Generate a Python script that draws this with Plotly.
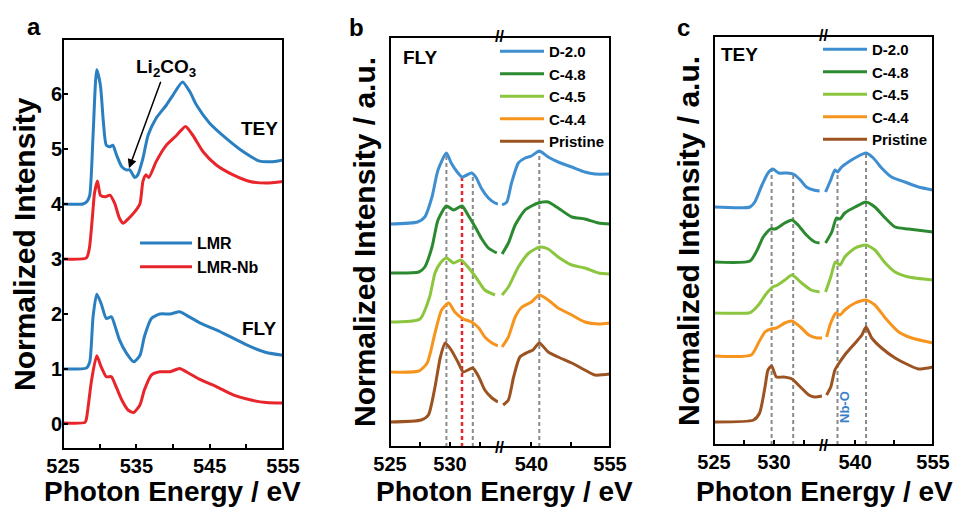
import plotly.graph_objects as go

# ---------------- data ----------------
# Panel a (Normalized Intensity vs Photon Energy)
a_tey_lmr_E = [525.0, 527.7, 528.3, 528.65, 529.1, 529.6, 530.1, 530.5, 530.9, 531.4, 531.8, 532.3, 533.0, 533.65, 534.1, 534.8, 535.2, 535.9, 536.6, 537.7, 539.1, 540.0, 541.3, 542.3, 543.2, 545.0, 547.3, 549.6, 551.8, 553.6, 555.0]
a_tey_lmr_I = [4.0, 4.0, 4.05, 4.16, 5.25, 6.44, 6.16, 5.5, 5.07, 5.04, 5.07, 4.89, 4.68, 4.62, 4.62, 4.48, 4.53, 4.83, 5.25, 5.56, 5.8, 5.98, 6.22, 6.04, 5.8, 5.47, 5.19, 4.95, 4.78, 4.77, 4.8]
a_tey_nb_E = [525.0, 528.2, 528.6, 529.0, 529.3, 529.7, 530.1, 530.7, 531.4, 532.05, 532.7, 533.2, 533.9, 534.8, 535.5, 535.9, 536.3, 536.7, 537.7, 539.1, 540.5, 541.7, 542.7, 544.1, 545.9, 548.2, 550.5, 552.7, 555.0]
a_tey_nb_I = [3.0, 3.02, 3.2, 3.75, 4.2, 4.42, 4.16, 4.13, 4.16, 4.01, 3.74, 3.65, 3.73, 3.86, 4.01, 4.41, 4.53, 4.48, 4.77, 5.07, 5.25, 5.41, 5.25, 4.95, 4.71, 4.53, 4.41, 4.38, 4.41]
a_fly_lmr_E = [525.0, 528.2, 528.65, 529.1, 529.6, 530.2, 530.9, 531.6, 532.05, 532.7, 533.65, 534.65, 535.5, 536.1, 537.05, 538.2, 539.6, 540.9, 541.8, 543.65, 545.9, 548.2, 550.5, 552.7, 555.0]
a_fly_lmr_I = [1.0, 1.02, 1.13, 1.95, 2.36, 2.19, 1.92, 1.95, 1.8, 1.53, 1.29, 1.13, 1.25, 1.59, 1.92, 2.0, 2.0, 2.04, 1.98, 1.84, 1.71, 1.56, 1.41, 1.3, 1.25]
a_fly_nb_E = [525.0, 528.0, 528.2, 528.9, 529.6, 530.2, 530.9, 531.6, 532.05, 533.0, 533.9, 534.65, 535.5, 536.1, 537.05, 538.2, 539.6, 540.9, 541.8, 543.65, 545.9, 548.2, 550.5, 552.7, 555.0]
a_fly_nb_I = [0.02, 0.03, 0.1, 0.8, 1.24, 1.04, 0.86, 0.86, 0.74, 0.44, 0.25, 0.21, 0.35, 0.62, 0.89, 0.95, 0.95, 1.01, 0.95, 0.81, 0.68, 0.53, 0.44, 0.39, 0.38]

# Panel b (FLY), stacked spectra in a.u.
b_d20_E = [525.0, 527.3, 527.9, 528.5, 529.0, 529.7, 530.1, 530.6, 531.0, 531.4, 531.8, 532.2, 532.6, 533.2, 533.75, 534.0, 534.4, 535.3, 536.2, 537.5, 538.8, 540.0, 541.5, 543.2, 545.1, 547.7, 550.2, 552.1, 555.0]
b_d20_I = [22.3, 22.5, 23.0, 25.0, 27.7, 29.4, 28.4, 27.5, 27.0, 27.2, 27.4, 26.9, 25.9, 24.9, 24.4, 24.3, 24.2, 24.5, 26.4, 28.4, 28.9, 29.1, 29.6, 29.0, 28.5, 28.0, 27.5, 27.3, 27.3]
b_c48_E = [525.0, 527.4, 527.9, 528.5, 529.0, 529.7, 530.3, 531.0, 531.5, 532.1, 532.6, 533.2, 533.9, 534.4, 535.6, 536.9, 538.8, 541.3, 543.2, 545.1, 547.7, 550.2, 552.8, 555.0]
b_c48_I = [17.4, 17.5, 18.0, 20.0, 22.7, 24.1, 23.7, 24.1, 23.2, 22.0, 20.9, 19.9, 19.4, 19.3, 20.4, 22.2, 23.7, 24.4, 24.5, 23.9, 23.0, 22.8, 22.4, 22.3]
b_c45_E = [525.0, 527.5, 528.3, 528.75, 529.2, 529.7, 530.3, 530.9, 531.5, 532.2, 532.9, 533.75, 534.4, 535.6, 537.5, 539.5, 541.6, 543.2, 545.1, 547.7, 550.2, 552.8, 555.0]
b_c45_I = [12.5, 12.8, 15.0, 17.4, 18.4, 18.9, 18.4, 18.7, 18.0, 16.9, 15.7, 15.2, 15.2, 16.0, 18.0, 19.4, 20.0, 19.8, 19.0, 18.2, 17.9, 17.4, 17.3]
b_c44_E = [525.0, 527.4, 528.1, 528.75, 529.3, 529.9, 530.4, 531.1, 531.8, 532.4, 532.9, 533.5, 534.0, 534.4, 535.6, 536.9, 538.2, 540.0, 541.5, 543.2, 545.1, 547.7, 550.2, 552.8, 555.0]
b_c44_I = [7.5, 7.6, 8.4, 11.4, 13.7, 14.4, 13.5, 12.8, 12.5, 11.9, 11.0, 10.4, 10.1, 10.0, 11.0, 13.0, 14.0, 14.5, 15.2, 14.7, 13.9, 13.2, 12.5, 12.3, 12.4]
b_pri_E = [525.0, 527.6, 528.2, 528.75, 529.2, 529.6, 530.1, 530.7, 531.1, 531.9, 532.4, 532.9, 533.5, 534.0, 534.6, 535.6, 536.6, 537.8, 539.4, 540.3, 541.5, 543.2, 545.1, 547.7, 550.2, 552.1, 555.0]
b_pri_I = [2.5, 2.7, 3.2, 6.0, 9.0, 10.4, 9.7, 8.4, 7.5, 7.9, 7.0, 5.7, 4.9, 4.5, 4.2, 4.7, 7.0, 9.0, 9.5, 9.7, 10.4, 9.5, 9.0, 8.4, 7.7, 7.2, 7.3]
b_guide_E = [529.7, 531.0, 531.9, 541.5]
b_guide_top = [29.4, 27.0, 27.4, 29.6]

# Panel c (TEY)
c_d20_E = [525.0, 528.0, 528.4, 529.0, 529.5, 529.9, 530.4, 531.1, 531.6, 532.2, 532.7, 533.3, 533.8, 534.3, 535.3, 536.1, 536.6, 537.4, 538.7, 540.3, 542.1, 543.5, 545.1, 547.0, 549.6, 552.2, 555.0]
c_d20_I = [23.8, 23.8, 24.3, 26.0, 27.2, 27.6, 27.2, 27.2, 27.1, 26.5, 25.8, 25.5, 25.4, 25.3, 26.5, 27.5, 27.3, 27.8, 28.3, 28.8, 29.2, 28.7, 27.7, 26.8, 26.3, 25.8, 25.5]
c_c48_E = [525.0, 528.0, 528.6, 529.1, 529.7, 530.1, 530.9, 531.5, 532.0, 532.7, 533.4, 533.8, 534.3, 535.5, 536.4, 537.1, 538.0, 540.0, 542.1, 543.8, 545.8, 547.7, 550.3, 555.0]
c_c48_I = [18.3, 18.4, 19.5, 20.8, 21.6, 21.6, 22.2, 22.5, 22.0, 21.0, 20.3, 20.2, 20.2, 21.3, 22.7, 22.6, 23.2, 23.8, 24.3, 23.8, 22.7, 21.8, 21.6, 21.3]
c_c45_E = [525.0, 527.9, 528.1, 528.7, 529.4, 529.9, 530.3, 530.9, 531.5, 532.3, 533.1, 533.8, 534.3, 535.3, 536.2, 537.1, 538.0, 540.0, 542.1, 543.8, 545.8, 547.7, 550.3, 555.0]
c_c45_I = [13.2, 13.2, 13.3, 14.0, 15.2, 15.8, 16.0, 16.5, 17.0, 16.2, 15.5, 15.3, 15.3, 16.8, 18.3, 18.0, 18.8, 19.7, 20.0, 19.5, 18.2, 17.3, 16.8, 16.5]
c_c44_E = [525.0, 528.1, 528.7, 529.25, 529.75, 530.2, 530.9, 531.5, 532.2, 532.9, 533.6, 534.0, 534.5, 535.3, 536.3, 537.1, 538.0, 540.0, 542.1, 543.8, 545.8, 548.4, 550.9, 555.0]
c_c44_I = [8.9, 9.0, 10.2, 11.3, 11.6, 11.7, 12.2, 12.4, 11.8, 11.0, 10.7, 10.7, 10.8, 12.2, 13.2, 13.0, 13.5, 14.2, 14.5, 14.0, 12.7, 11.3, 10.7, 10.2]
c_pri_E = [525.0, 528.3, 528.8, 529.25, 529.5, 529.8, 530.2, 530.8, 531.5, 532.2, 532.9, 533.4, 534.0, 534.5, 535.3, 536.1, 536.8, 538.0, 540.0, 541.3, 542.1, 543.2, 545.1, 547.7, 550.3, 552.2, 555.0]
c_pri_I = [2.3, 2.5, 3.2, 5.8, 7.5, 7.9, 6.8, 6.8, 6.6, 5.8, 5.0, 4.8, 4.9, 5.0, 5.8, 7.5, 8.1, 9.0, 10.2, 11.0, 11.8, 10.7, 9.7, 8.7, 8.0, 7.6, 7.8]
c_guide_E = [529.8, 531.6, 536.6, 542.1]
c_guide_top = [27.6, 27.1, 27.3, 29.2]

series_names = ["D-2.0", "C-4.8", "C-4.5", "C-4.4", "Pristine"]
a_names = ["LMR", "LMR-Nb"]
a_x_major = [525, 535, 545, 555]
a_x_minor = [530, 540, 550]
a_y_ticks = [0, 1, 2, 3, 4, 5, 6]
lo_major = [525, 530]
lo_minor = [527.5, 532.5]
hi_major = [540, 555]
hi_minor = [547.5]

# ---------------- style ----------------
W, H = 965, 508
FONT = "Liberation Sans"
BLUE_A, RED_A = "#2a7fc0", "#e8252b"
COLS = ["#3f8ed0", "#2b8a2f", "#8cc63f", "#f7941d", "#9c5322"]
GRAY = "#8a8a8a"
BREAK = 534.2


def PX(px):
    return px / W


def PY(py):
    return 1 - py / H


fig = go.Figure()

# panel a
for E, I, col, name, show in [
    (a_tey_lmr_E, a_tey_lmr_I, BLUE_A, a_names[0], True),
    (a_tey_nb_E, a_tey_nb_I, RED_A, a_names[1], True),
    (a_fly_lmr_E, a_fly_lmr_I, BLUE_A, a_names[0], False),
    (a_fly_nb_E, a_fly_nb_I, RED_A, a_names[1], False),
]:
    fig.add_trace(go.Scatter(x=E, y=I, mode="lines", name=name, showlegend=show,
                             line=dict(color=col, width=3, shape="spline", smoothing=0.6),
                             xaxis="x", yaxis="y", legend="legend"))


def add_panel(curves, guides_E, guides_top, guide_cols, xl, xr, ya, leg):
    # dashed guides
    for gx, gt, gc in zip(guides_E, guides_top, guide_cols):
        xa = xl if gx < BREAK else xr
        fig.add_trace(go.Scatter(x=[gx, gx], y=[0, gt], mode="lines", showlegend=False,
                                 line=dict(color=gc, width=2 if gc == GRAY else 2.5, dash="4px,3px"),
                                 xaxis=xa, yaxis=ya, hoverinfo="skip"))
    for (E, I), col, name in zip(curves, COLS, series_names):
        lo = [(e, v) for e, v in zip(E, I) if e < BREAK]
        hi = [(e, v) for e, v in zip(E, I) if e >= BREAK]
        fig.add_trace(go.Scatter(x=[p[0] for p in lo], y=[p[1] for p in lo], mode="lines", name=name,
                                 line=dict(color=col, width=3, shape="spline", smoothing=0.6),
                                 xaxis=xl, yaxis=ya, legend=leg, showlegend=True))
        fig.add_trace(go.Scatter(x=[p[0] for p in hi], y=[p[1] for p in hi], mode="lines", name=name,
                                 line=dict(color=col, width=3, shape="spline", smoothing=0.6),
                                 xaxis=xr, yaxis=ya, legend=leg, showlegend=False))


add_panel([(b_d20_E, b_d20_I), (b_c48_E, b_c48_I), (b_c45_E, b_c45_I), (b_c44_E, b_c44_I), (b_pri_E, b_pri_I)],
          b_guide_E, b_guide_top, [GRAY, RED_A, GRAY, GRAY], "x2", "x3", "y2", "legend2")
add_panel([(c_d20_E, c_d20_I), (c_c48_E, c_c48_I), (c_c45_E, c_c45_I), (c_c44_E, c_c44_I), (c_pri_E, c_pri_I)],
          c_guide_E, c_guide_top, [GRAY] * 4, "x4", "x5", "y3", "legend3")

tickfont = dict(family=FONT, size=20, color="black", weight="bold")


def xax(domain, rng, anchor, major, minor):
    return dict(domain=domain, range=rng, anchor=anchor, showgrid=False, zeroline=False, showline=False,
                ticks="inside", ticklen=5, tickwidth=2, tickcolor="black", tickfont=tickfont,
                tickmode="array", tickvals=major, ticktext=[str(v) for v in major],
                ticklabelstandoff=3, automargin=False,
                minor=dict(tickmode="array", tickvals=minor, ticks="inside", ticklen=5, tickwidth=2,
                           tickcolor="black", showgrid=False))


ycommon = dict(showgrid=False, zeroline=False, showline=False, automargin=False)

fig.update_layout(
    width=W, height=H, margin=dict(l=0, r=0, t=0, b=0, autoexpand=False),
    paper_bgcolor="white", plot_bgcolor="white",
    xaxis=xax([PX(63), PX(283)], [525, 555], "y", a_x_major, a_x_minor),
    yaxis=dict(domain=[PY(449), PY(39)], range=[-0.4545, 7.0], anchor="x",
               ticks="inside", ticklen=5, tickwidth=2, tickcolor="black",
               tickfont=tickfont, tickmode="array", tickvals=a_y_ticks, ticklabelstandoff=0, **ycommon),
    xaxis2=xax([PX(390), PX(498)], [525, 534], "y2", lo_major, lo_minor),
    xaxis3=xax([PX(500), PX(610)], [534, 555], "y2", hi_major, hi_minor),
    yaxis2=dict(domain=[PY(447), PY(37)], range=[0, 41], anchor="x2",
                showticklabels=False, ticks="", **ycommon),
    xaxis4=xax([PX(714), PX(822)], [525, 534], "y3", lo_major, lo_minor),
    xaxis5=xax([PX(824), PX(933)], [534, 555], "y3", hi_major, hi_minor),
    yaxis3=dict(domain=[PY(445), PY(36)], range=[0, 40.9], anchor="x4",
                showticklabels=False, ticks="", **ycommon),
    legend=dict(x=PX(135), y=PY(226), xanchor="left", yanchor="top", bgcolor="rgba(0,0,0,0)",
                font=dict(family=FONT, size=16, color="black", weight="bold"), tracegroupgap=0, itemwidth=52),
    legend2=dict(x=PX(495), y=PY(35), xanchor="left", yanchor="top", bgcolor="rgba(0,0,0,0)",
                 font=dict(family=FONT, size=15, color="black", weight="bold"), tracegroupgap=0, itemwidth=44),
    legend3=dict(x=PX(818), y=PY(33), xanchor="left", yanchor="top", bgcolor="rgba(0,0,0,0)",
                 font=dict(family=FONT, size=15, color="black", weight="bold"), tracegroupgap=0, itemwidth=44),
)

# frames of the three panels
for x0, x1, y0, y1 in [(63, 283, 39, 449), (390, 610, 37, 447), (714, 933, 36, 445)]:
    fig.add_shape(type="rect", xref="paper", yref="paper", x0=PX(x0), x1=PX(x1), y0=PY(y1), y1=PY(y0),
                  line=dict(color="black", width=2), fillcolor="rgba(0,0,0,0)")


def txt(px, py, s, size, color="black", angle=0, weight="bold"):
    fig.add_annotation(x=PX(px), y=PY(py), xref="paper", yref="paper", text=s, showarrow=False,
                       textangle=angle, xanchor="center", yanchor="middle",
                       font=dict(family=FONT, size=size, color=color, weight=weight))


# panel letters
txt(34, 26, "a", 24)
txt(356, 27, "b", 24)
txt(683, 27, "c", 24)
# axis titles
txt(24, 244, "Normalized Intensity", 30, angle=-90)
txt(364, 242, "Normalized Intensity / a.u.", 30, angle=-90)
txt(688, 241, "Normalized Intensity / a.u.", 30, angle=-90)
txt(172, 491, "Photon Energy / eV", 28)
txt(504, 491, "Photon Energy / eV", 28)
txt(824, 491, "Photon Energy / eV", 28)
# in-plot labels
txt(259, 128, "TEY", 19)
txt(259, 328, "FLY", 19)
txt(420, 57, "FLY", 19)
txt(739, 54, "TEY", 19)
txt(844, 407, "Nb-O", 13, color="#3a80c8", angle=-90)
# axis break marks
for bx, by in [(500, 37), (500, 447), (823, 36), (823, 445)]:
    txt(bx, by, "//", 16)

# Li2CO3 label with arrow pointing to the feature
fig.add_annotation(x=534.0, y=4.65, ax=539.0, ay=6.47, xref="x", yref="y", axref="x", ayref="y",
                   text="Li<sub>2</sub>CO<sub>3</sub>", showarrow=True, arrowhead=2, arrowsize=1.2,
                   arrowwidth=1.5, arrowcolor="black",
                   font=dict(family=FONT, size=19, color="black", weight="bold"))

fig.write_html("out.html", config={"displayModeBar": False},
               post_script="document.body.style.margin='0';document.body.style.padding='0';")
